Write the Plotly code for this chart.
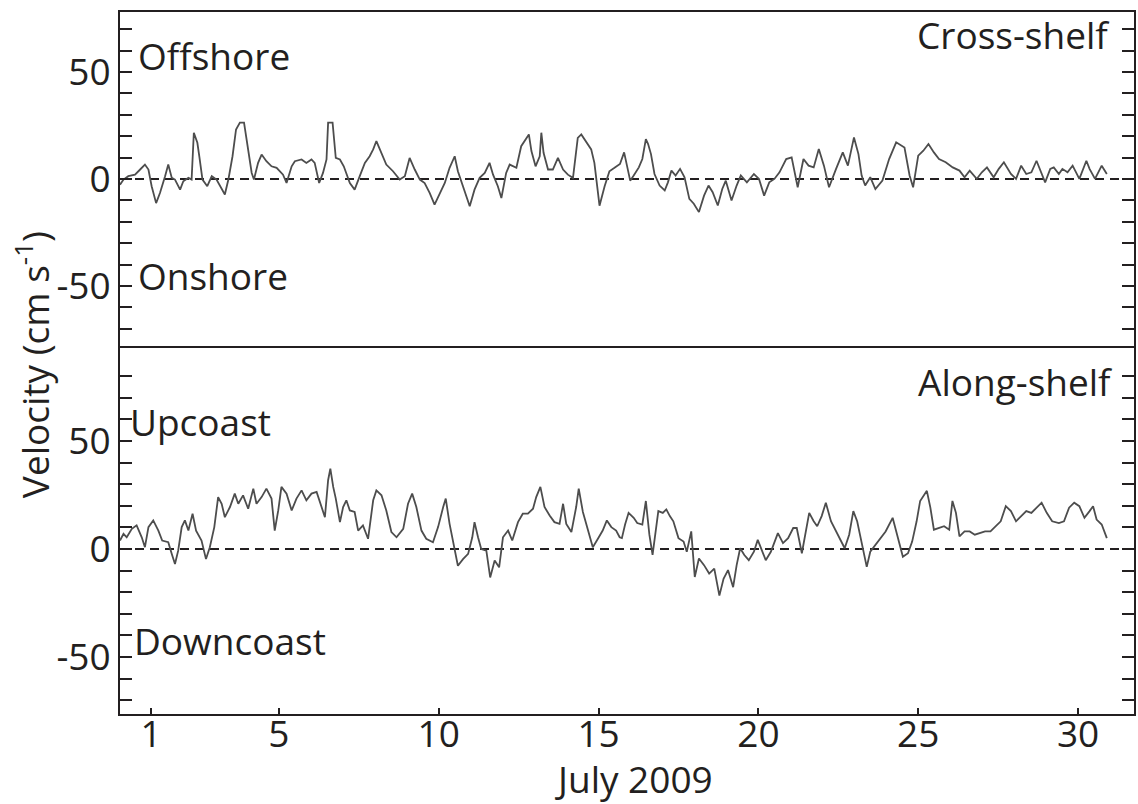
import plotly.graph_objects as go
from plotly.subplots import make_subplots

# July 2009 day-of-month (decimal) and velocities in cm/s
cross_day = [0.03, 0.14, 0.29, 0.50, 0.66, 0.81, 0.92, 1.02, 1.16, 1.28, 1.44, 1.54, 1.65, 1.75,
             1.91, 2.01, 2.17, 2.27, 2.34, 2.45, 2.51, 2.61, 2.76, 2.90, 3.05, 3.21, 3.31, 3.42,
             3.55, 3.66, 3.78, 3.91, 3.99, 4.15, 4.22, 4.35, 4.46, 4.61, 4.77, 4.93, 5.13, 5.24,
             5.40, 5.50, 5.71, 5.86, 6.02, 6.12, 6.26, 6.38, 6.49, 6.54, 6.68, 6.78, 6.91, 7.03,
             7.22, 7.37, 7.53, 7.69, 7.84, 7.95, 8.05, 8.21, 8.36, 8.57, 8.78, 8.94, 9.09, 9.25,
             9.41, 9.56, 9.72, 9.87, 10.03, 10.19, 10.34, 10.50, 10.60, 10.76, 10.97, 11.12, 11.28,
             11.44, 11.59, 11.70, 11.85, 11.96, 12.11, 12.22, 12.43, 12.58, 12.74, 12.82, 12.90,
             13.03, 13.16, 13.21, 13.28, 13.42, 13.57, 13.73, 13.89, 14.04, 14.20, 14.35, 14.46,
             14.61, 14.77, 14.87, 15.03, 15.19, 15.34, 15.50, 15.67, 15.80, 15.89, 15.99, 16.10,
             16.26, 16.37, 16.48, 16.55, 16.64, 16.75, 16.91, 17.07, 17.17, 17.28, 17.41, 17.55,
             17.69, 17.84, 17.98, 18.14, 18.30, 18.44, 18.57, 18.73, 18.87, 18.98, 19.16, 19.32,
             19.45, 19.64, 19.86, 20.02, 20.18, 20.34, 20.50, 20.66, 20.87, 21.04, 21.23, 21.41,
             21.57, 21.73, 21.89, 22.05, 22.21, 22.43, 22.64, 22.80, 22.99, 23.13, 23.23, 23.34,
             23.50, 23.66, 23.88, 24.09, 24.31, 24.57, 24.73, 24.84, 25.00, 25.16, 25.32, 25.49,
             25.65, 25.86, 26.08, 26.29, 26.45, 26.61, 26.83, 26.99, 27.15, 27.36, 27.52, 27.68,
             27.90, 28.06, 28.22, 28.38, 28.54, 28.70, 28.86, 28.97, 29.13, 29.24, 29.40, 29.51,
             29.67, 29.83, 30.04, 30.26, 30.36, 30.53, 30.74, 30.90]
cross_vel = [-2.7, -0.3, 1.3, 2.0, 4.4, 6.7, 4.4, -3.4, -11.3, -6.6, 1.3, 6.7, 0.5, -0.3,
             -5.0, -1.1, 0.5, -0.3, 21.6, 16.9, 10.6, -0.3, -3.4, 1.3, -0.3, -4.2, -7.3, -0.3,
             10.6, 23.1, 26.3, 26.3, 18.4, 2.8, -0.3, 7.5, 11.4, 8.3, 5.9, 5.2, 2.0, -1.9,
             5.9, 8.3, 9.1, 7.5, 9.1, 7.5, -1.9, 2.8, 9.1, 26.3, 26.3, 9.8, 9.1, 5.9,
             -1.9, -5.0, 1.3, 7.5, 10.6, 13.8, 17.7, 12.2, 6.7, 3.6, -0.3, 1.3, 9.8, 4.4,
             -0.3, -1.9, -6.6, -12.0, -6.6, -1.9, 5.2, 10.6, 3.6, -3.4, -12.8, -5.0, 0.5,
             2.8, 7.5, 2.0, -3.4, -8.9, 2.8, 6.7, 5.2, 15.3, 19.2, 20.8, 13.0,
             5.9, 10.6, 21.6, 12.2, 4.4, 4.4, 9.8, 4.4, 2.0, 0.5, 19.2, 20.8,
             17.7, 13.8, 7.5, -12.5, -3.4, 3.6, 5.2, 7.0, 12.4, 6.2, -0.8, 1.6,
             5.4, 9.3, 18.6, 16.3, 11.6, 2.3, -3.1, -5.4, -1.6, 3.9, 1.6, 4.7,
             0.8, -9.3, -11.6, -15.5, -7.8, -3.1, -6.2, -12.4, -4.7, -0.8, -10.1, -3.1,
             1.6, -1.6, 2.3, 0.0, -7.8, -1.6, 0.0, 3.1, 9.3, 10.1, -3.9, 9.3,
             6.2, 5.4, 14.0, 6.2, -3.9, 4.7, 12.4, 6.2, 19.4, 11.6, 1.6, -3.1,
             0.8, -4.7, -0.8, 9.3, 17.1, 14.7, 1.6, -3.9, 10.9, 13.2, 16.3, 12.4,
             9.3, 7.8, 5.4, 3.9, 0.8, 3.9, 0.0, 3.1, 5.4, 0.8, 4.7, 7.8,
             2.3, 0.0, 6.2, 2.3, 3.1, 8.5, 2.3, -1.6, 4.7, 5.4, 2.3, 4.7,
             3.1, 6.2, 0.0, 8.5, 4.7, 0.0, 6.2, 2.3]

along_day = [0.03, 0.14, 0.24, 0.40, 0.55, 0.71, 0.81, 0.92, 1.07, 1.23, 1.35, 1.54, 1.65, 1.75,
             1.85, 1.96, 2.06, 2.17, 2.30, 2.41, 2.58, 2.72, 2.84, 2.98, 3.10, 3.21, 3.31, 3.47,
             3.62, 3.73, 3.88, 4.04, 4.20, 4.30, 4.46, 4.61, 4.77, 4.87, 4.98, 5.08, 5.24, 5.40,
             5.55, 5.71, 5.86, 6.02, 6.18, 6.33, 6.44, 6.54, 6.61, 6.70, 6.78, 6.91, 7.01, 7.11,
             7.22, 7.37, 7.48, 7.63, 7.79, 7.95, 8.05, 8.21, 8.36, 8.52, 8.68, 8.89, 9.04, 9.17,
             9.30, 9.46, 9.61, 9.82, 9.98, 10.14, 10.22, 10.34, 10.48, 10.60, 10.76, 10.92, 11.05,
             11.12, 11.23, 11.33, 11.49, 11.61, 11.75, 11.89, 12.01, 12.17, 12.30, 12.48, 12.63,
             12.79, 12.95, 13.05, 13.18, 13.31, 13.47, 13.62, 13.78, 13.89, 13.99, 14.15, 14.30,
             14.38, 14.51, 14.67, 14.82, 14.98, 15.13, 15.26, 15.40, 15.55, 15.66, 15.73, 15.83,
             15.94, 16.10, 16.21, 16.37, 16.48, 16.59, 16.69, 16.80, 16.87, 17.01, 17.12, 17.23,
             17.34, 17.50, 17.66, 17.76, 17.90, 18.01, 18.14, 18.30, 18.46, 18.62, 18.78, 18.91,
             19.05, 19.21, 19.32, 19.43, 19.56, 19.70, 19.86, 19.98, 20.12, 20.23, 20.39, 20.61,
             20.77, 20.93, 21.09, 21.20, 21.36, 21.46, 21.59, 21.73, 21.84, 21.98, 22.11, 22.27,
             22.43, 22.59, 22.70, 22.84, 22.97, 23.09, 23.23, 23.39, 23.50, 23.66, 23.82, 23.98,
             24.20, 24.36, 24.52, 24.68, 24.81, 24.95, 25.06, 25.27, 25.38, 25.49, 25.65, 25.81,
             25.97, 26.07, 26.18, 26.29, 26.45, 26.61, 26.77, 26.93, 27.09, 27.26, 27.42, 27.58,
             27.74, 27.90, 28.06, 28.22, 28.38, 28.54, 28.70, 28.86, 29.02, 29.19, 29.40, 29.56,
             29.72, 29.88, 30.04, 30.20, 30.36, 30.47, 30.58, 30.74, 30.90]
along_vel = [3.9, 7.0, 5.4, 9.3, 10.9, 5.4, 0.8, 10.1, 13.2, 8.5, 3.9, 3.1, -2.3, -7.0,
             -0.8, 10.1, 13.2, 8.5, 16.3, 8.5, 3.9, -4.7, 0.8, 10.1, 24.0, 20.9, 14.7, 19.4,
             25.6, 20.9, 24.8, 18.6, 27.9, 20.9, 24.0, 27.9, 23.3, 8.5, 17.8, 28.7, 25.6, 17.8,
             23.3, 27.1, 22.5, 25.6, 26.4, 20.2, 14.7, 31.8, 37.2, 28.7, 23.3, 12.4, 19.4, 22.5,
             17.8, 17.1, 8.5, 10.9, 4.7, 22.5, 27.1, 24.8, 17.8, 7.8, 5.4, 9.3, 20.9, 25.6,
             19.4, 8.5, 4.7, 3.1, 10.1, 19.4, 23.3, 11.6, 0.8, -7.8, -4.7, -2.3, 5.4,
             12.4, 5.4, 0.0, -0.8, -13.2, -5.4, -8.5, 5.4, 8.5, 3.9, 12.4, 16.3,
             16.3, 18.6, 24.0, 28.7, 19.4, 15.5, 12.4, 11.6, 20.9, 11.6, 7.8, 19.4,
             27.9, 17.1, 8.5, 0.8, 4.7, 8.5, 13.2, 10.1, 8.5, 5.4, 5.0, 11.3,
             16.7, 14.4, 12.0, 11.3, 22.2, 6.6, -2.8, 11.3, 17.5, 16.7, 18.3, 15.2,
             12.8, 5.0, 3.4, -1.3, 8.1, -13.0, -4.4, -7.5, -11.4, -9.1, -21.6, -13.8,
             -9.8, -17.7, -7.5, 0.3, -2.8, -5.2, -1.3, 4.2, -1.3, -5.2, -1.3, 7.3,
             2.7, 5.0, 9.7, 9.7, -2.0, 6.6, 16.7, 12.8, 10.5, 15.2, 21.4, 12.8,
             8.1, 3.4, 0.3, 6.6, 17.5, 12.8, 3.4, -8.3, -1.3, 1.9, 5.0, 8.1,
             14.4, 5.0, -3.6, -2.0, 3.4, 12.8, 22.2, 26.9, 19.1, 8.9, 9.7, 10.5,
             8.9, 22.2, 16.7, 5.8, 8.1, 8.1, 6.6, 7.3, 8.1, 8.1, 10.5, 12.8,
             19.8, 17.5, 12.8, 15.2, 17.5, 16.7, 19.1, 21.4, 16.7, 12.8, 12.0, 12.8,
             19.1, 21.4, 19.8, 14.4, 17.5, 19.8, 13.6, 11.3, 5.0]

day_ticks = [1, 5, 10, 15, 20, 25, 30]
vel_ticks = list(range(-70, 90, 10))
vel_labels = [str(v) if v in (-50, 0, 50) else "" for v in vel_ticks]

INK = "#231f20"
FONT = "Open Sans"
FS = 37

W, H = 1138, 804
L, R, T, B = 120, 2, 12, 90
PLOT_H = H - T - B  # 702 px, split 336 / 366 between the two panels

fig = make_subplots(rows=2, cols=1, shared_xaxes=True, vertical_spacing=0,
                    row_heights=[336 / PLOT_H, 366 / PLOT_H])

fig.add_trace(go.Scatter(x=cross_day, y=cross_vel, mode="lines",
                         line=dict(color="#4d4d4d", width=1.8), showlegend=False), row=1, col=1)
fig.add_trace(go.Scatter(x=along_day, y=along_vel, mode="lines",
                         line=dict(color="#4d4d4d", width=1.8), showlegend=False), row=2, col=1)

# dashed zero reference in each panel
for yref in ("y", "y2"):
    fig.add_shape(type="line", xref="x domain", x0=0, x1=1, yref=yref, y0=0, y1=0,
                  line=dict(color=INK, width=2, dash="9px,6px"), layer="below")

axis_common = dict(showline=True, linecolor=INK, linewidth=2, showgrid=False, zeroline=False)

fig.update_xaxes(range=[0.03, 31.75], **axis_common)
# upper panel: only its top border; the shared divider comes from the lower panel
fig.update_xaxes(side="top", mirror=False, ticks="", showticklabels=False, row=1, col=1)
fig.update_xaxes(mirror=True, tickmode="array", tickvals=day_ticks, ticks="inside",
                 ticklen=6, tickwidth=2, tickcolor=INK, ticklabelstandoff=-13,
                 tickfont=dict(family=FONT, size=FS, color=INK), row=2, col=1)

fig.update_yaxes(tickmode="array", tickvals=vel_ticks, ticktext=vel_labels, ticks="inside",
                 ticklen=12, tickwidth=2, tickcolor=INK, mirror="ticks",
                 tickfont=dict(family=FONT, size=FS, color=INK), **axis_common)
fig.update_yaxes(range=[-79, 78], row=1, col=1)
fig.update_yaxes(range=[-76.4, 93], row=2, col=1)


def px(x):
    return (x - L) / (W - L - R)


def py(y):
    return (H - B - y) / PLOT_H


labels = [
    ("Offshore", 136, 56, "left"),
    ("Onshore", 136, 275, "left"),
    ("Cross-shelf", 1114, 34, "right"),
    ("Along-shelf", 1117, 381, "right"),
    ("Upcoast", 128, 421, "left"),
    ("Downcoast", 132, 640, "left"),
]
for text, x, y, anchor in labels:
    fig.add_annotation(text=text, x=px(x), y=py(y), xref="paper", yref="paper",
                       xanchor=anchor, yanchor="middle", showarrow=False,
                       font=dict(family=FONT, size=FS, color=INK))

fig.add_annotation(text="July 2009", x=px(635), y=py(778), xref="paper", yref="paper",
                   xanchor="center", yanchor="middle", showarrow=False,
                   font=dict(family=FONT, size=FS, color=INK))

fig.add_annotation(text="Velocity (cm s<sup>-1</sup>)", x=px(32), y=py(365), xref="paper",
                   yref="paper", textangle=-90, xanchor="center", yanchor="middle",
                   showarrow=False, font=dict(family=FONT, size=FS, color=INK))

fig.update_layout(width=W, height=H, margin=dict(l=L, r=R, t=T, b=B),
                  paper_bgcolor="white", plot_bgcolor="white",
                  font=dict(family=FONT, size=FS, color=INK))

fig.write_html("out.html")
